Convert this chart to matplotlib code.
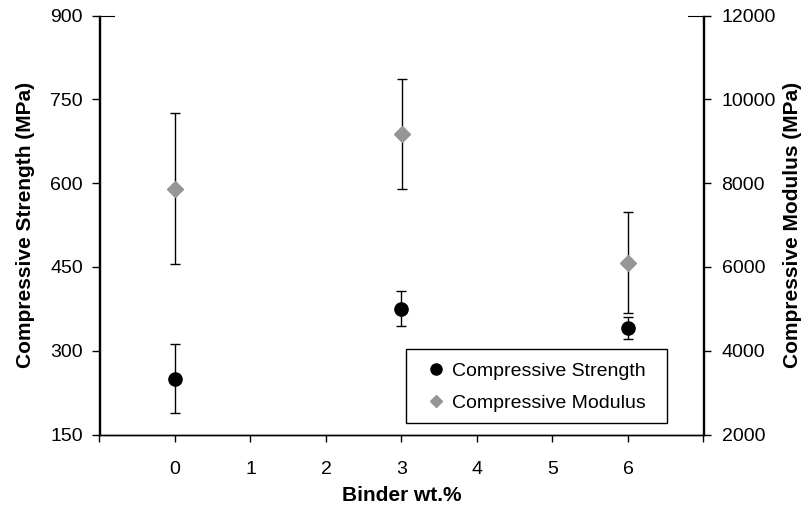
import numpy as np
import matplotlib
matplotlib.use('Agg')
import matplotlib.pyplot as plt
from matplotlib.lines import Line2D
from matplotlib.patches import Rectangle

plt.rcParams['font.family'] = ['Liberation Sans', 'DejaVu Sans']

# data
binder = [0, 3, 6]
strength = [250, 375, 341]
strength_err = [62, 31, 20]
modulus = [7870, 9170, 6100]
modulus_err = [1800, 1310, 1200]

xticks = list(range(-1, 8))
xticklabels = ['' if t in (-1, 7) else str(t) for t in xticks]
left_ticks = [150, 300, 450, 600, 750, 900]
right_ticks = [2000, 4000, 6000, 8000, 10000, 12000]

W, H = 803, 508
fig = plt.figure(figsize=(W/100, H/100), dpi=100)
ax1 = fig.add_axes([99.5/W, 1-434.5/H, 604/W, 419/H])
ax2 = ax1.twinx()

# strength on the left axis
ax1.errorbar(binder, strength, yerr=strength_err, fmt='o', color='black',
             ms=9.5, ecolor='black', elinewidth=1, capsize=3.5, capthick=1, zorder=3)
# modulus on the right axis
ax2.errorbar(binder, modulus, yerr=modulus_err, fmt='D', color='#969696',
             mec='#969696', ms=8.5, ecolor='black', elinewidth=1, capsize=3.5,
             capthick=1, zorder=3)

ax1.set_xlim(-1, 7)
ax1.set_ylim(150, 900)
ax2.set_ylim(2000, 12000)
ax1.set_xticks(xticks)
ax1.set_xticklabels(xticklabels)
ax1.set_yticks(left_ticks)
ax2.set_yticks(right_ticks)

for ax in (ax1, ax2):
    ax.spines['top'].set_visible(False)
    for s in ax.spines.values():
        s.set_linewidth(1.0)
ax1.tick_params(axis='x', direction='out', length=5, width=1, pad=14, labelsize=14)
ax1.tick_params(axis='y', direction='out', length=5, width=1, pad=7, labelsize=14)
ax2.tick_params(axis='y', direction='out', length=5, width=1, pad=8, labelsize=14)

# short top caps next to the 900 / 12000 ticks
ax1.plot([0, 15/604], [1, 1], transform=ax1.transAxes, color='black', lw=0.8, clip_on=False)
ax1.plot([1-15/604, 1], [1, 1], transform=ax1.transAxes, color='black', lw=0.8, clip_on=False)

ax1.set_xlabel('Binder wt.%', fontsize=15, fontweight='bold', labelpad=6)
ax1.set_ylabel('Compressive Strength (MPa)', fontsize=15, fontweight='bold', labelpad=11)
ax2.set_ylabel('Compressive Modulus (MPa)', fontsize=15, fontweight='bold', labelpad=5)

# legend box drawn by hand, entries placed inside it
ax2.add_patch(Rectangle((406/W, 1-423/H), 261/W, 74/H, transform=fig.transFigure,
                        facecolor='white', edgecolor='black', lw=1.0, zorder=4,
                        clip_on=False))
handles = [Line2D([], [], ls='none', marker='o', color='black', ms=8),
           Line2D([], [], ls='none', marker='D', color='#969696', ms=6)]
leg = ax2.legend(handles, ['Compressive Strength', 'Compressive Modulus'],
                 loc='upper left', bbox_to_anchor=(426/W, 1-362/H),
                 bbox_transform=fig.transFigure, borderaxespad=0, borderpad=0,
                 fontsize=14, frameon=False, handlelength=1.0, handletextpad=0.33,
                 labelspacing=0.75)
leg.set_zorder(6)

fig.savefig('out.png', dpi=100)
